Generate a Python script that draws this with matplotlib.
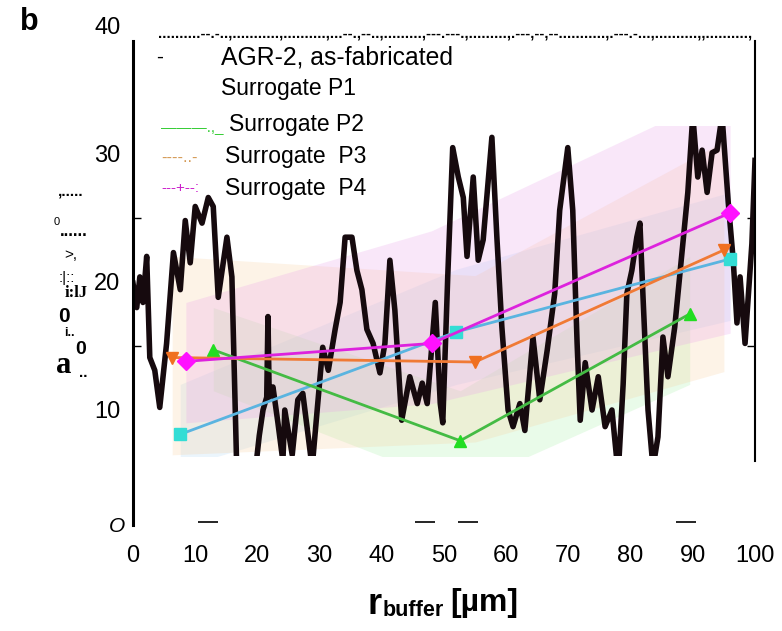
import numpy as np
import matplotlib
matplotlib.use("Agg")
import matplotlib.pyplot as plt
from matplotlib.patches import Rectangle

plt.rcParams['font.family'] = ['Liberation Sans', 'DejaVu Sans']

# AGR-2, as-fabricated trace
trace_x = [0, 0.6, 1.1, 1.6, 2.2, 2.7, 3.5, 4.3, 5.4, 6.5,
           7.6, 8.4, 9.2, 10.0, 11.1, 12.1, 12.9, 13.7, 15.1, 15.9,
           16.7, 17.6, 18.5, 19.5, 20.3, 20.9, 21.5, 21.7, 21.9, 22.5,
           23.3, 24.1, 24.4, 25.6, 26.5, 27.3, 28.8, 29.7, 30.5, 31.4,
           32.5, 33.3, 34.1, 35.2, 36.0, 36.8, 37.6, 38.6, 39.7, 40.5,
           41.3, 42.1, 43.2, 44.5, 45.7, 46.5, 47.3, 48.6, 49.4, 49.8,
           50.6, 51.4, 52.3, 53.1, 53.7, 54.7, 55.5, 56.3, 57.7, 58.5,
           59.3, 60.3, 61.1, 62.2, 63.0, 64.3, 65.4, 66.6, 67.8, 68.6,
           69.9, 70.7, 71.4, 71.9, 72.7, 73.8, 74.8, 75.9, 77.0, 78.0,
           78.8, 79.4, 80.2, 81.0, 81.5, 82.0, 82.8, 83.6, 84.4, 85.2,
           86.0, 87.1, 88.3, 89.2, 90.0, 90.8, 91.5, 92.3, 93.1, 93.9,
           94.7, 95.7, 96.5, 97.1, 97.6, 98.4, 99.5, 100]
trace_y = [19.9, 18.0, 20.4, 18.4, 22.0, 14.1, 13.1, 10.2, 15.2, 22.3,
           19.4, 24.8, 21.5, 25.9, 24.6, 26.6, 25.9, 18.8, 23.5, 20.4,
           5.0, 4.0, 5.5, 4.5, 8.0, 10.0, 11.0, 17.3, 11.0, 11.8,
           9.0, 6.0, 10.0, 6.5, 10.8, 11.3, 5.5, 10.5, 14.9, 13.1,
           16.3, 18.4, 23.5, 23.5, 20.9, 19.4, 16.3, 15.2, 12.9, 15.2,
           21.7, 17.8, 9.2, 12.6, 10.5, 12.1, 10.5, 18.4, 10.5, 9.0,
           20.4, 30.5, 28.2, 26.6, 22.0, 28.2, 21.7, 23.3, 31.3, 23.5,
           16.5, 10.0, 8.7, 10.5, 8.4, 15.7, 10.8, 14.7, 19.1, 25.6,
           30.5, 25.6, 15.2, 9.2, 13.7, 10.0, 12.6, 8.7, 10.0, 5.0,
           12.0, 19.1, 20.9, 23.5, 24.6, 18.8, 10.0, 5.5, 7.9, 15.7,
           12.6, 16.5, 22.5, 27.0, 33.0, 28.2, 30.3, 27.0, 30.1, 30.3,
           33.0, 26.2, 21.7, 16.8, 20.4, 15.2, 23.0, 29.5]

# surrogates: mean and band
p1_x = [7.6, 52.0, 96.0]
p1_y = [8.1, 16.1, 21.8]
p1_lo = [5.5, 12.0, 17.0]
p1_hi = [12.0, 21.0, 27.0]

p2_x = [12.9, 52.6, 89.5]
p2_y = [14.7, 7.6, 17.5]
p2_lo = [11.5, 4.0, 12.0]
p2_hi = [18.0, 11.5, 22.0]

p3_x = [6.3, 55.0, 95.0]
p3_y = [14.1, 13.75, 22.5]
p3_lo = [6.5, 7.5, 13.0]
p3_hi = [22.0, 20.5, 31.0]

p4_x = [8.5, 48.0, 96.0]
p4_y = [13.8, 15.2, 25.4]
p4_lo = [9.0, 10.5, 16.0]
p4_hi = [18.4, 24.0, 35.0]

cap_x = [12.1, 46.9, 53.9, 88.9]
cap_y = [1.25, 1.25, 1.25, 1.25]

xticks = [0, 10, 20, 30, 40, 50, 60, 70, 80, 90, 100]
yticks = [10, 20, 30, 40]

W, H = 782, 631
fig = plt.figure(figsize=(W / 100, H / 100), dpi=100)
ax = fig.add_axes([133 / W, 93 / H, 622 / W, 512 / H])
ax.set_xlim(0, 100)
ax.set_ylim(0, 40)

clip = Rectangle((0, 6.4), 100, 25.8, transform=ax.transData)

series = [
    (p1_x, p1_y, p1_lo, p1_hi, '#5ab4e0', '#33ddd5', 's', '#b0d8f5'),
    (p2_x, p2_y, p2_lo, p2_hi, '#44bb44', '#22dd22', '^', '#a8f0a8'),
    (p3_x, p3_y, p3_lo, p3_hi, '#f07a35', '#f07020', 'v', '#f8d0a0'),
    (p4_x, p4_y, p4_lo, p4_hi, '#dd22dd', '#ff11ff', 'D', '#eaa0ea'),
]
for xs, ys, lo, hi, lc, mc, mk, fc in series:
    band = ax.fill_between(xs, lo, hi, color=fc, alpha=0.25, lw=0, zorder=1)
    band.set_clip_path(clip)

# trace sits over the bands, under the surrogate lines
tr, = ax.plot(trace_x, trace_y, color='#160a0e', lw=4, zorder=2)
tr.set_clip_path(clip)

for xs, ys, lo, hi, lc, mc, mk, fc in series:
    ln, = ax.plot(xs, ys, color=lc, lw=2, marker=mk, ms=9, mfc=mc, mec=mc, zorder=3)
    ln.set_clip_path(clip)

ax.plot(cap_x, cap_y, ls='none', marker='_', ms=14, mew=1.2, color='black', clip_on=False)

# axes styling
ax.spines['top'].set_visible(False)
ax.spines['bottom'].set_visible(False)
ax.spines['left'].set_linewidth(2.2)
ax.spines['left'].set_bounds(1.0, 38.8)
ax.spines['right'].set_linewidth(1.5)
ax.spines['right'].set_bounds(6.0, 38.8)

ax.set_xticks(xticks)
ax.set_xticklabels([str(v) for v in xticks], family=['Liberation Sans Narrow', 'Liberation Sans'], fontsize=17)
ax.set_yticks(yticks)
ax.set_yticklabels([str(v) for v in yticks], fontsize=17)
ax.tick_params(axis='x', length=0, pad=5)
ax.tick_params(axis='y', which='major', length=0, pad=9)
ax.set_yticks([10, 15, 20, 25, 30], minor=True)
ax.tick_params(axis='y', which='minor', direction='in', length=6, width=1, left=True, right=True)


def ftxt(px, py, s, **kw):
    kw.setdefault('va', 'center')
    fig.text(px / W, 1 - py / H, s, **kw)


ftxt(20, 22, 'b', fontsize=22, weight='bold')
ftxt(117, 527, 'O', fontsize=15, style='italic', ha='center')

# garbled top edge
ftxt(158, 33, '..........--.-..,...........,..........,...--.,--..,.........,---.---.,.........,'
     '.---,--,--...........,.---.-...,..........,,..........,', fontsize=10.8, weight='bold')

# legend
ftxt(156, 57, '-', fontsize=15)
ftxt(221, 57, 'AGR-2, as-fabricated', fontsize=17.8)
ftxt(221, 88, 'Surrogate P1', fontsize=16.5)
ftxt(229, 125, 'Surrogate P2', fontsize=16.5)
ftxt(225, 156, 'Surrogate  P3', fontsize=16.5)
ftxt(225, 188, 'Surrogate  P4', fontsize=16.5)
ftxt(161, 128, '———.,_', fontsize=11, color='#33cc33')
ftxt(161, 157, '----..-', fontsize=12, color='#d49a55')
ftxt(161, 188, '---+--:', fontsize=11, color='#cc22cc')

# garbled y label
ftxt(58, 191, ',.....', fontsize=11, weight='bold')
ftxt(54, 222, '0', fontsize=8)
ftxt(60, 232, '......', fontsize=12, weight='bold')
ftxt(64, 255, '>,', fontsize=11)
ftxt(59, 278, ':|::', fontsize=11)
ftxt(65, 293, 'i:lJ', fontsize=12, weight='bold', family='Liberation Serif')
ftxt(58, 316, '0', fontsize=15, weight='bold')
ftxt(64, 333, 'i..', fontsize=9, weight='bold')
ftxt(56, 366, 'a', fontsize=22, weight='bold', family='Liberation Serif')
ftxt(75, 350, '0', fontsize=14, weight='bold')
ftxt(79, 373, '..', fontsize=11, weight='bold')

# x label
ftxt(367, 604, 'r', fontsize=26, weight='bold')
ftxt(383, 611, 'buffer', fontsize=15.5, weight='bold')
ftxt(450, 603, '[µm]', fontsize=23, weight='bold')

fig.savefig('out.png', dpi=100)
